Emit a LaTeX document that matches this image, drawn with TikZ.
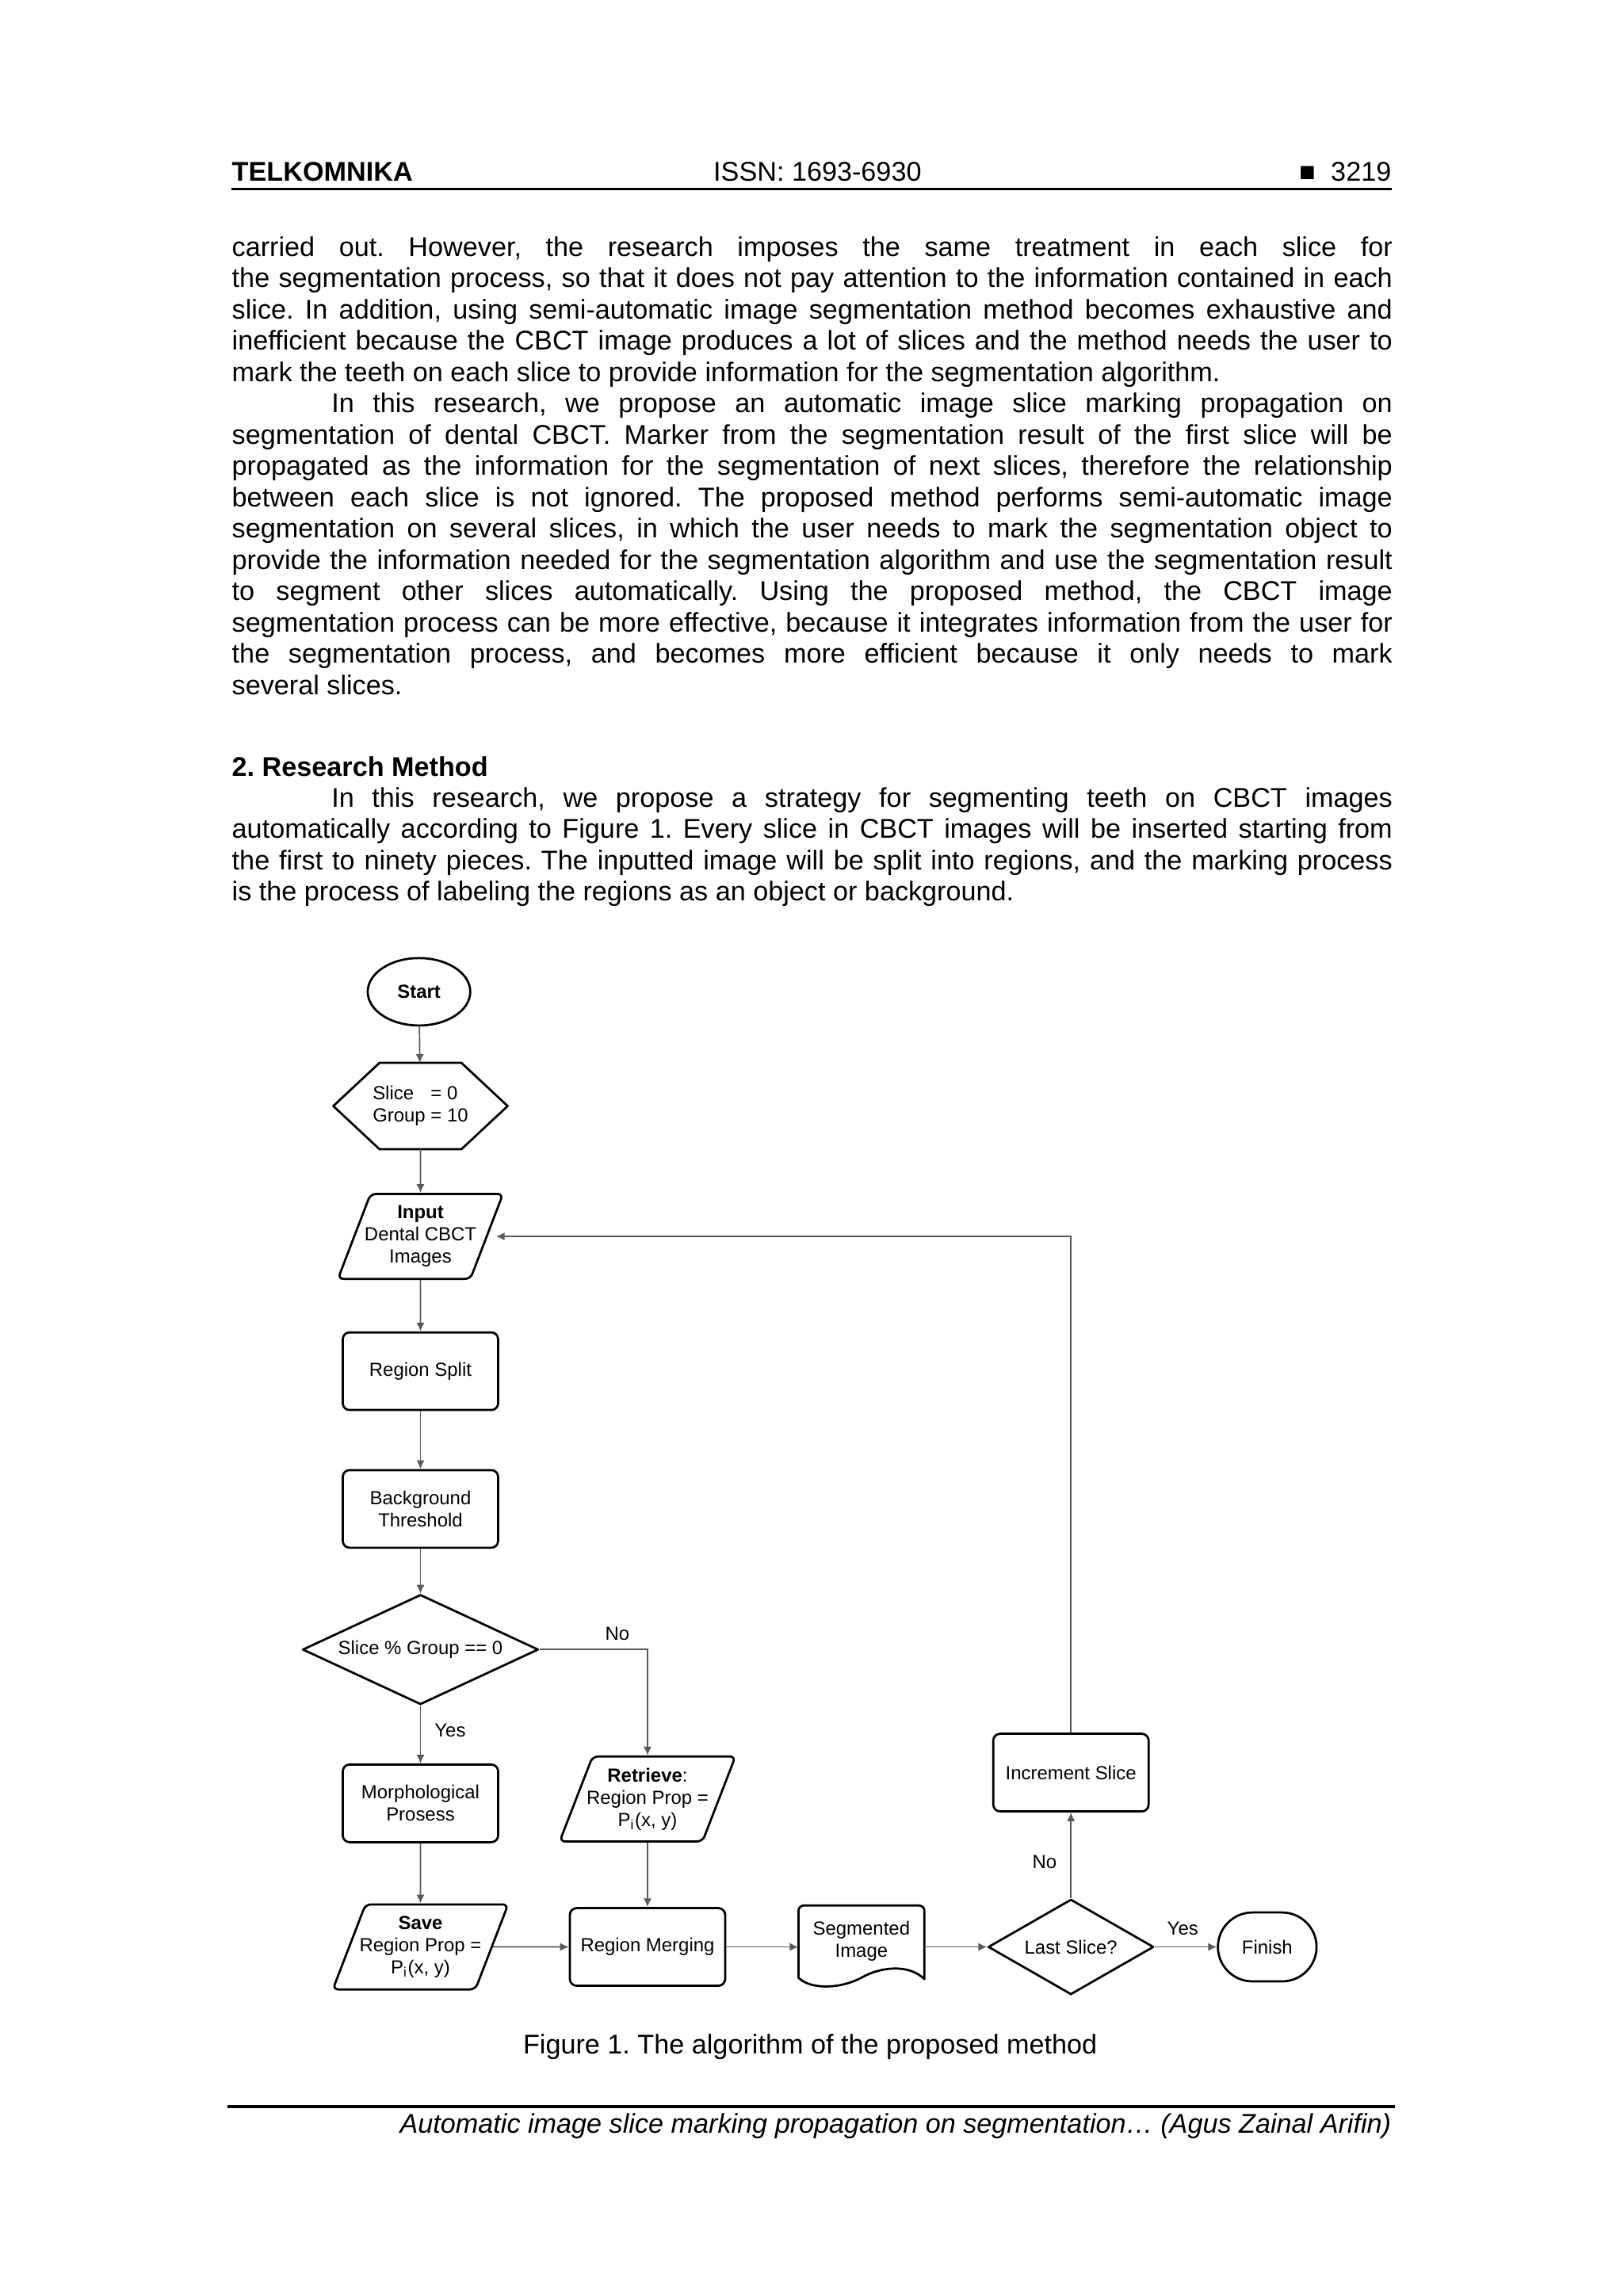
\documentclass[tikz,border=0pt]{standalone}
\usepackage{fontspec}
\setmainfont{Liberation Sans}
\usepackage{tikz}
\usetikzlibrary{arrows.meta,positioning,shapes.geometric,shapes.misc}
\hyphenpenalty=10000
\exhyphenpenalty=10000
\tolerance=10000
\frenchspacing

\begin{document}
\begin{tikzpicture}[
  x=0.019cm, y=-0.019cm,
  para/.style  = {anchor=base west, inner sep=0pt, text width=15.048cm, align=justify,
                  font=\fontsize{10}{11.55}\selectfont},
  txt/.style   = {inner sep=0pt, font=\fontsize{10}{11.55}\selectfont},
  outl/.style  = {draw=black, line width=0.8pt, line join=round},
  shp/.style   = {outl, align=center, inner sep=1pt, font=\fontsize{7}{8.2}\selectfont},
  proc/.style  = {shp, rounded corners=2.5pt, minimum width=2.014cm, minimum height=1.007cm},
  io/.style    = {shp, trapezium, trapezium left angle=64, trapezium right angle=116,
                  trapezium stretches body=true, rounded corners=2pt, inner xsep=-2.2pt,
                  minimum width=2.03cm, minimum height=1.102cm},
  dec/.style   = {shp, diamond, inner sep=0pt},
  ar/.style    = {-{Latex[length=3.2pt,width=3pt]}, draw=black!65, line width=0.5pt},
  lbl/.style   = {font=\fontsize{7}{8.2}\selectfont, inner sep=1pt},
]
\path[use as bounding box, fill=white] (0,0) rectangle (1108,1567.3);

% ---- running head ----------------------------------------------------------
\node[txt, anchor=base west, font=\fontsize{10}{11.55}\selectfont\bfseries] (jname) at (158,123.5) {TELKOMNIKA};
\node[txt, anchor=base] (issn) at (558,123.5) {ISSN: 1693-6930};
\node[txt, anchor=base east] (pgno) at (950,123.5) {■\hspace{0.2cm}3219};
\draw[line width=1pt] (158,129) -- (950,129);

% ---- body text -------------------------------------------------------------
\node[para] (intro) at (158,175) {carried out. However, the research imposes the same treatment in each slice for\linebreak
the segmentation process, so that it does not pay attention to the information contained in each\linebreak
slice. In addition, using semi-automatic image segmentation method becomes exhaustive and\linebreak
inefficient because the CBCT image produces a lot of slices and the method needs the user to\linebreak
mark the teeth on each slice to provide information for the segmentation algorithm.\par
\hspace*{1.29cm}In this research, we propose an automatic image slice marking propagation on\linebreak
segmentation of dental CBCT. Marker from the segmentation result of the first slice will be\linebreak
propagated as the information for the segmentation of next slices, therefore the relationship\linebreak
between each slice is not ignored. The proposed method performs semi-automatic image\linebreak
segmentation on several slices, in which the user needs to mark the segmentation object to\linebreak
provide the information needed for the segmentation algorithm and use the segmentation result\linebreak
to segment other slices automatically. Using the proposed method, the CBCT image\linebreak
segmentation process can be more effective, because it integrates information from the user for\linebreak
the segmentation process, and becomes more efficient because it only needs to mark\linebreak
several slices.};

\node[txt, anchor=base west, font=\fontsize{10}{11.55}\selectfont\bfseries] (sec) at (158,530) {2. Research Method};
\node[para] (method) at (158,551) {\hspace*{1.29cm}In this research, we propose a strategy for segmenting teeth on CBCT images\linebreak
automatically according to Figure 1. Every slice in CBCT images will be inserted starting from\linebreak
the first to ninety pieces. The inputted image will be split into regions, and the marking process\linebreak
is the process of labeling the regions as an object or background.};

% ---- flowchart: main column ------------------------------------------------
\node[shp, ellipse, minimum width=1.33cm, minimum height=0.874cm, font=\fontsize{7}{8.2}\selectfont\bfseries] (start) at (286,677) {Start};
\node[shp, draw=none, outer sep=0pt, minimum width=2.261cm, minimum height=1.121cm] (init) at (287,755)
  {\begin{tabular}{@{}l@{ }l@{}}Slice & = 0\\ Group & = 10\end{tabular}};
\draw[outl] ([xshift=0.6cm]init.north west) -- ([xshift=-0.6cm]init.north east) -- (init.east)
  -- ([xshift=-0.6cm]init.south east) -- ([xshift=0.6cm]init.south west) -- (init.west) -- cycle;
\node[io]   (input) at (287,844)  {\textbf{Input}\\Dental CBCT\\Images};
\node[proc] (split) at (287,936)  {Region Split};
\node[proc] (bgth)  at (287,1030) {Background\\Threshold};
\node[dec, minimum width=3.059cm, minimum height=1.425cm, aspect=2.15] (mod) at (287,1126) {Slice \% Group == 0};
\node[proc] (morph) at (287,1231) {Morphological\\Prosess};
\node[io]   (save)  at (287,1329) {\textbf{Save}\\Region Prop =\\P\textsubscript{i}(x, y)};

\draw[ar] (start) -- (init);
\draw[ar] (init) -- (input);
\draw[ar] (input) -- (split);
\draw[ar] (split) -- (bgth);
\draw[ar] (bgth) -- (mod);
\draw[ar] (mod) -- node[lbl, right=4pt, pos=0.43] {Yes} (morph);
\draw[ar] (morph) -- (save);

% ---- flowchart: retrieve branch and bottom row -----------------------------
\node[io]   (retr)  at (442,1228) {\textbf{Retrieve}:\\Region Prop =\\P\textsubscript{i}(x, y)};
\node[proc] (merge) at (442,1329) {Region Merging};
\node[shp, draw=none, outer sep=0pt, minimum width=1.634cm] (segimg) at (588,1325) {Segmented\\Image};
\draw[outl] (545,1350) [rounded corners=2pt] -- (545,1300.7) -- (631,1300.7) [sharp corners] -- (631,1351)
  .. controls (620,1340) and (600,1343) .. (588,1350) .. controls (573,1358) and (553,1358) .. (545,1350) -- cycle;
\node[dec, minimum width=2.147cm, minimum height=1.235cm, aspect=1.74] (last) at (731,1329) {Last Slice?};
\node[shp, rounded rectangle, minimum width=1.349cm, minimum height=0.893cm] (finish) at (865,1329) {Finish};
\node[proc] (incr)  at (731,1210) {Increment Slice};

\draw[ar] (mod.east) -| node[lbl, above=2pt, pos=0.36] {No} (retr.north);
\draw[ar] (retr) -- (merge);
\draw[ar] (save.east) -- (merge.west);
\draw[ar] (merge.east) -- (merge.east -| segimg.west);
\draw[ar] (merge.east -| segimg.east) -- (last.west);
\draw[ar] (last.east) -- node[lbl, above=3pt, pos=0.45] {Yes} (finish.west);
\draw[ar] (last.north) -- node[lbl, left=4pt, pos=0.42] {No} (incr.south);
\draw[ar, shorten >=3pt] (incr.north) |- (input.east);

% ---- caption and running foot ----------------------------------------------
\node[txt, anchor=base] (cap) at (553,1402) {Figure 1. The algorithm of the proposed method};
\draw[line width=1pt] (155,1438) -- (952,1438);
\node[txt, anchor=base east, font=\fontsize{10}{11.55}\selectfont\itshape] (foot) at (950,1456)
  {Automatic image slice marking propagation on segmentation… (Agus Zainal Arifin)};

\end{tikzpicture}
\end{document}
